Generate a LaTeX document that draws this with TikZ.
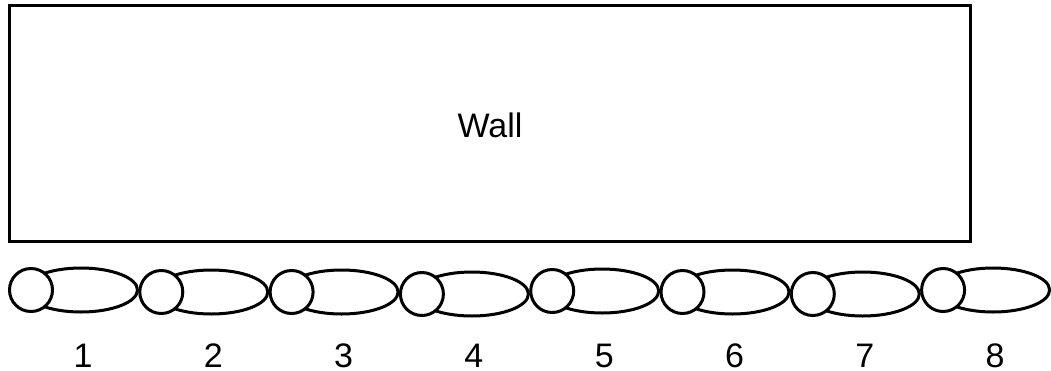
\documentclass[tikz,border=0pt]{standalone}
\usepackage{fontspec}
\setmainfont{Liberation Sans}
\usetikzlibrary{shapes.geometric}
\begin{document}
\begin{tikzpicture}[x=1pt,y=-1pt,
  line width=3pt,
  wallbox/.style={draw,black,line width=3pt},
  link/.style={draw,ellipse,inner sep=0pt,minimum width=113pt,minimum height=44pt,line width=3pt},
  joint/.style={draw,circle,fill=white,inner sep=0pt,minimum size=43pt,line width=3pt},
  lbl/.style={anchor=base,font=\fontsize{34}{40}\selectfont,inner sep=0pt}]
\useasboundingbox (0,0) rectangle (1051,370);
\draw[wallbox] (9.5,5) rectangle (970.5,241.5);
\node[lbl] (wall) at (490,137) {Wall};
\foreach \i/\y in {1/290,2/292,3/292,4/294,5/291,6/292,7/294,8/290}{
  \pgfmathsetmacro{\cx}{31+130.3*(\i-1)}
  \node[link] (e\i) at (\cx+50,\y) {};
  \node[joint] (c\i) at (\cx,\y) {};
  \node[lbl] (n\i) at (\cx+52,367) {\i};
}
\end{tikzpicture}
\end{document}
